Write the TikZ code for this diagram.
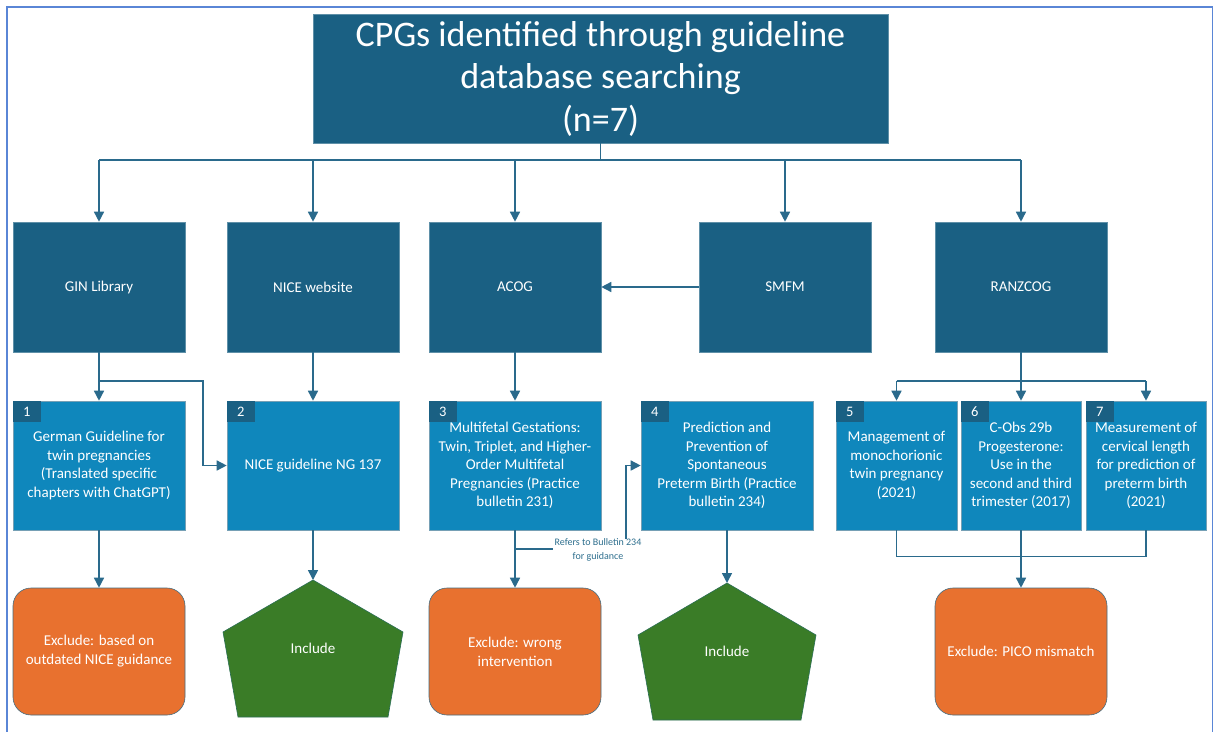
\documentclass[tikz,border=0pt]{standalone}
\usepackage{fontspec}
\setmainfont{Carlito}
\usetikzlibrary{arrows.meta}
\definecolor{darkteal}{HTML}{1A6083}
\definecolor{midblue}{HTML}{0F87BC}
\definecolor{orangex}{HTML}{E8712F}
\definecolor{greenx}{HTML}{3A7C27}
\definecolor{connc}{HTML}{2A6A8C}
\definecolor{framec}{HTML}{5A86D6}
\definecolor{lblc}{HTML}{2E6F8E}
\tikzset{
  topbox/.style={fill=darkteal, draw=darkteal!70!white, line width=0.6pt, minimum width=575pt, minimum height=129pt, inner sep=0pt, align=center, text=white, font=\fontsize{36}{42.5}\selectfont},
  srcbox/.style={fill=darkteal, draw=darkteal!70!white, line width=0.6pt, minimum width=172pt, minimum height=130pt, inner sep=0pt, align=center, text=white, font=\fontsize{15}{18}\selectfont},
  cpgbox/.style={fill=midblue, draw=darkteal!60!white, line width=0.6pt, minimum width=172pt, minimum height=129pt, inner sep=0pt, align=center, text=white, font=\fontsize{15}{18.5}\selectfont},
  tabbox/.style={fill=darkteal, minimum width=28pt, minimum height=21pt, inner sep=0pt, anchor=north west, text=white, font=\fontsize{14.5}{16}\selectfont},
  exbox/.style={fill=orangex, draw=darkteal!60!gray, line width=0.6pt, rounded corners=18pt, minimum width=172pt, minimum height=127pt, inner sep=0pt, align=center, text=white, font=\fontsize{15}{19}\selectfont},
  pent/.style={fill=greenx, draw=darkteal!50!greenx, line width=0.6pt},
  inclbl/.style={text=white, font=\fontsize{15}{17}\selectfont, inner sep=0pt},
  conn/.style={draw=connc, line width=1.5pt},
  arr/.style={conn, -{Triangle[length=10pt,width=10pt]}},
  lbl/.style={text=lblc, align=center, inner sep=1pt, font=\fontsize{10}{13.5}\selectfont}
}
\begin{document}
\begin{tikzpicture}[x=1pt,y=-1pt]
\useasboundingbox (0,0) rectangle (1215,731);
\fill[white] (0,0) rectangle (1215,731);
\draw[framec, line width=1.6pt] (7,735) -- (7,7) -- (1212.5,7) -- (1212.5,735);

% title
\node[topbox] (title) at (600.5,78.5) {CPGs identified through guideline\\database searching\\(n=7)};

% sources
\node[srcbox] (gin) at (99,287) {GIN Library};
\node[srcbox] (nicew) at (313,287) {NICE website};
\node[srcbox] (acog) at (515,287) {ACOG};
\node[srcbox] (smfm) at (785,287) {SMFM};
\node[srcbox] (ranz) at (1021,287) {RANZCOG};

% CPGs
\node[cpgbox] (b1) at (99,465.5) {German Guideline for\\twin pregnancies\\(Translated specific\\chapters with ChatGPT)};
\node[cpgbox] (b2) at (313,465.5) {NICE guideline NG 137};
\node[cpgbox] (b3) at (515,465.5) {Multifetal Gestations:\\Twin, Triplet, and Higher-\\Order Multifetal\\Pregnancies (Practice\\bulletin 231)};
\node[cpgbox] (b4) at (727,465.5) {Prediction and\\Prevention of\\Spontaneous\\Preterm Birth (Practice\\bulletin 234)};
\node[cpgbox, minimum width=121pt] (b5) at (896.5,465.5) {Management of\\monochorionic\\twin pregnancy\\(2021)};
\node[cpgbox, minimum width=120pt] (b6) at (1021,465.5) {C-Obs 29b\\Progesterone:\\Use in the\\second and third\\trimester (2017)};
\node[cpgbox, minimum width=120pt] (b7) at (1146,465.5) {Measurement of\\cervical length\\for prediction of\\preterm birth\\(2021)};

\node[tabbox] (t1) at (b1.north west) {1};
\node[tabbox] (t2) at (b2.north west) {2};
\node[tabbox] (t3) at (b3.north west) {3};
\node[tabbox] (t4) at (b4.north west) {4};
\node[tabbox] (t5) at (b5.north west) {5};
\node[tabbox] (t6) at (b6.north west) {6};
\node[tabbox] (t7) at (b7.north west) {7};

% outcomes
\node[exbox] (o1) at (99,651.5) {Exclude: based on\\outdated NICE guidance};
\node[exbox] (o3) at (515,651.5) {Exclude: wrong\\intervention};
\node[exbox] (o6) at (1021,651.5) {Exclude: PICO mismatch};

\draw[pent] (313,580) -- (403,632) -- (388,717) -- (238,717) -- (223,632) -- cycle;
\coordinate (p2top) at (313,580);
\node[inclbl] (p2) at (313,648) {Include};
\draw[pent] (727,583) -- (816,635) -- (801,720) -- (653,720) -- (638,635) -- cycle;
\coordinate (p4top) at (727,583);
\node[inclbl] (p4) at (727,651) {Include};

% connectors from title
\coordinate (hub) at (600.5,160);
\draw[conn] (title.south) -- (hub);
\draw[conn] (gin.north |- hub) -- (ranz.north |- hub);
\foreach \n in {gin,nicew,acog,smfm,ranz}{
  \draw[arr] (\n.north |- hub) -- (\n.north);
}
\draw[arr] (smfm.west) -- (acog.east);

% sources to CPGs
\draw[arr] (gin.south) -- (b1.north);
\coordinate (g1) at (99,381);
\coordinate (g2) at (203,381);
\draw[arr] (g1) -- (g2) |- (b2.west);
\draw[arr] (nicew.south) -- (b2.north);
\draw[arr] (acog.south) -- (b3.north);
\coordinate (rz) at (1021,381);
\draw[conn] (ranz.south) -- (rz);
\draw[conn] (b5.north |- rz) -- (b7.north |- rz);
\draw[arr] (b5.north |- rz) -- (b5.north);
\draw[arr] (b6.north |- rz) -- (b6.north);
\draw[arr] (b7.north |- rz) -- (b7.north);

% CPGs to outcomes
\draw[arr] (b1.south) -- (o1.north);
\draw[arr] (b2.south) -- (p2top);
\draw[arr] (b3.south) -- (o3.north);
\draw[arr] (b4.south) -- (p4top);
\draw[arr] (b6.south) -- (o6.north);
\draw[conn] (b5.south) -- ++(0,26) -| (b7.south);

% bulletin reference
\node[lbl] (refers) at (598,550) {Refers to Bulletin 234\\for guidance};
\coordinate (bl) at (515,549);
\draw[conn] (bl) -- (refers.west |- bl);
\coordinate (rb) at (626,539);
\draw[arr] (rb) |- (b4.west);
\end{tikzpicture}
\end{document}
